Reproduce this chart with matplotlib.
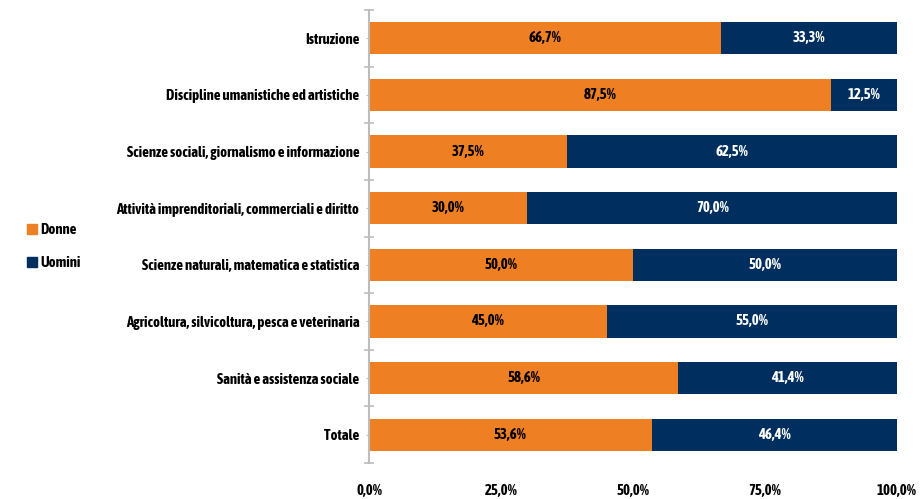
import numpy as np
import matplotlib.pyplot as plt
from matplotlib import font_manager
from matplotlib.lines import Line2D

categorie = [
    "Istruzione",
    "Discipline umanistiche ed artistiche",
    "Scienze sociali, giornalismo e informazione",
    "Attività imprenditoriali, commerciali e diritto",
    "Scienze naturali, matematica e statistica",
    "Agricoltura, silvicoltura, pesca e veterinaria",
    "Sanità e assistenza sociale",
    "Totale",
]
donne = [66.7, 87.5, 37.5, 30.0, 50.0, 45.0, 58.6, 53.6]
uomini = [33.3, 12.5, 62.5, 70.0, 50.0, 55.0, 41.4, 46.4]
x_ticks = [0, 25, 50, 75, 100]

ARANCIO = "#EE7F22"
BLU = "#002F5F"
GRIGIO = "#BDBDBD"


def peso(f):
    w = f.weight
    return w if isinstance(w, int) else font_manager.weight_dict.get(w, 400)


# look for a narrow face that also has a bold cut
voci = font_manager.fontManager.ttflist
stretti_bold = sorted({f.name for f in voci
                       if ('Narrow' in f.name or 'Condensed' in f.name) and peso(f) >= 600})
dejavu_cond = any(f.name == 'DejaVu Sans' and 'condensed' in str(f.stretch) and peso(f) >= 600
                  for f in voci)
stretch = 'normal'
if 'Liberation Sans Narrow' in stretti_bold:
    famiglia, fs = 'Liberation Sans Narrow', 9.0
elif stretti_bold:
    famiglia, fs = stretti_bold[0], 10.6
elif dejavu_cond:
    famiglia, fs, stretch = 'DejaVu Sans', 7.6, 'condensed'
else:
    famiglia, fs = 'Liberation Sans', 7.4

plt.rcParams['font.family'] = [famiglia, 'DejaVu Sans']
plt.rcParams['font.weight'] = 'bold'
plt.rcParams['font.stretch'] = stretch

fig = plt.figure(figsize=(9.21, 4.99), dpi=100)
ax = fig.add_axes([369 / 921, 36 / 499, 528 / 921, 453 / 499])

y = np.arange(len(categorie))
h = 0.57
ax.barh(y, donne, height=h, color=ARANCIO, label="Donne")
ax.barh(y, uomini, left=donne, height=h, color=BLU, label="Uomini")


def fmt(v):
    return f"{v:.1f}%".replace(".", ",")


for yi, d, u in zip(y, donne, uomini):
    ax.text(d / 2, yi, fmt(d), ha='center', va='center', fontsize=fs,
            color='black', fontweight='bold')
    ax.text(d + u / 2, yi, fmt(u), ha='center', va='center', fontsize=fs,
            color='white', fontweight='bold')

ax.set_xlim(0, 100)
ax.set_ylim(len(categorie) - 0.5, -0.5)
ax.set_xticks(x_ticks)
ax.set_xticklabels([fmt(v) for v in x_ticks], fontsize=fs, fontweight='bold')
ax.tick_params(axis='x', length=0, pad=15)

ax.set_yticks(y)
ax.set_yticklabels(categorie, fontsize=fs, fontweight='bold')
ax.set_yticks(np.arange(-0.5, len(categorie)), minor=True)
ax.tick_params(axis='y', which='major', length=2, color=GRIGIO, pad=5)
ax.tick_params(axis='y', which='minor', length=7, direction='inout', color=GRIGIO, width=1.2)

for s in ['top', 'right', 'bottom']:
    ax.spines[s].set_visible(False)
ax.spines['left'].set_color(GRIGIO)
ax.spines['left'].set_linewidth(1.5)

handles = [Line2D([], [], marker='s', linestyle='', color=ARANCIO, markersize=6.5),
           Line2D([], [], marker='s', linestyle='', color=BLU, markersize=6.5)]
fig.legend(handles, ["Donne", "Uomini"], loc='upper left', bbox_to_anchor=(0.012, 0.58),
           frameon=False, fontsize=fs, handletextpad=0.0, labelspacing=1.3,
           handlelength=1.1)

fig.savefig("out.png", dpi=100)
